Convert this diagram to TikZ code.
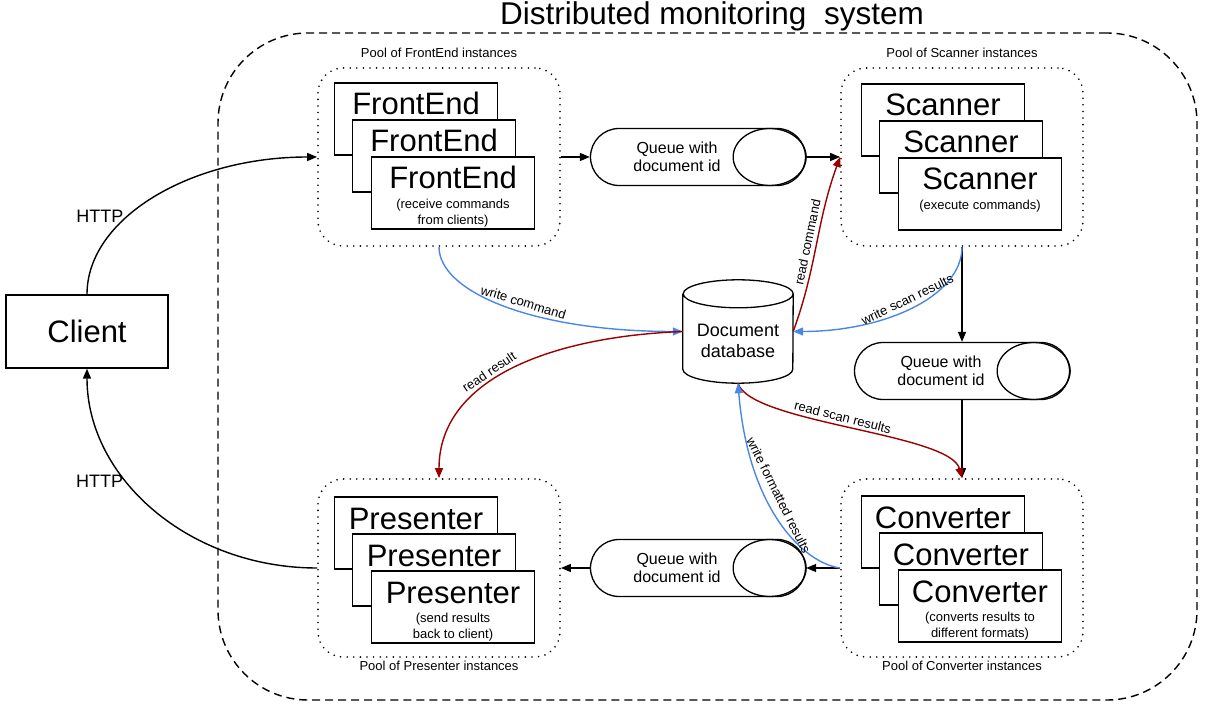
\documentclass[tikz,border=0pt]{standalone}
\usepackage{fontspec}
\setmainfont{Liberation Sans}
\usetikzlibrary{arrows.meta}

\definecolor{writeblue}{HTML}{4A86E8}
\definecolor{readred}{HTML}{990000}

\tikzset{
  pool/.style={draw, line width=1.8pt, line cap=round, dash pattern=on 0pt off 6.6pt,
    rounded corners=25pt, minimum width=242pt, minimum height=178pt},
  poollab/.style={font=\fontsize{13}{15}\selectfont, inner sep=0pt},
  inst/.style={draw, fill=white, line width=1.3pt, minimum width=163pt, inner sep=0pt,
    text height=32pt, text depth=40pt, font=\fontsize{31}{36}\selectfont},
  note/.style={font=\fontsize{13}{16.5}\selectfont, align=center, inner sep=0pt},
  queue/.style={draw, line width=1.3pt, rounded corners=28.5pt, minimum width=215pt,
    minimum height=57pt},
  qtext/.style={align=center, font=\fontsize{16}{18}\selectfont},
  flow/.style={line width=1.4pt, -{Triangle[length=10pt,width=8pt]}},
  writeflow/.style={flow, draw=writeblue},
  readflow/.style={flow, draw=readred},
  lab/.style={font=\fontsize{13}{15}\selectfont, sloped, above, inner sep=4pt},
  http/.style={font=\fontsize{18}{21}\selectfont, left},
}

\begin{document}
\begin{tikzpicture}[x=1pt, y=1pt]
\useasboundingbox (0,0) rectangle (1214,723);
% system boundary and title
\node[draw, line width=1.4pt, dash pattern=on 8pt off 5pt, rounded corners=90pt,
  minimum width=979pt, minimum height=667pt] (sys) at (707.5,356.5) {};
\node[font=\fontsize{31.5}{36}\selectfont, anchor=base] (title) at (712,698) {Distributed monitoring\ \ system};

% client
\node[draw, line width=1.3pt, minimum width=162pt, minimum height=73pt,
  font=\fontsize{31}{36}\selectfont] (client) at (87,391.5) {Client};

% pools of instances
\node[pool] (fepool) at (439,566) {};
\node[pool] (scpool) at (962,566) {};
\node[pool] (prpool) at (439,155) {};
\node[pool] (copool) at (962,155) {};
\node[poollab, anchor=base] (felab) at ([yshift=10pt]fepool.north) {Pool of FrontEnd instances};
\node[poollab, anchor=base] (sclab) at ([yshift=10pt]scpool.north) {Pool of Scanner instances};
\node[poollab, anchor=base] (prlab) at ([yshift=-13pt]prpool.south) {Pool of Presenter instances};
\node[poollab, anchor=base] (colab) at ([yshift=-13pt]copool.south) {Pool of Converter instances};

% three stacked instances per pool
\foreach \n/\px/\py/\t/\s in {fe/416/604/FrontEnd/{(receive commands\\from clients)},
    sc/943/603/Scanner/{(execute commands)},
    pr/416/190/Presenter/{(send results\\back to client)},
    co/943/191/Converter/{(converts results to\\different formats)}}{
  \node[inst] (\n1) at (\px,\py) {\t};
  \node[inst] (\n2) at (\px+18,\py-37) {\t};
  \node[inst] (\n3) at (\px+37,\py-74) {\t};
  \node[note, anchor=north] (\n note) at ([yshift=-42.5pt]\n3.north) {\s};
}

% queues
\foreach \q/\qx/\qy in {q1/698/566, q2/962/352, q3/698/155}{
  \node[queue] (\q) at (\qx,\qy) {};
  \draw[line width=1.3pt] ([xshift=-36.5pt]\q.east) ellipse (36.5 and 28.5);
  \node[qtext] (\q text) at ([xshift=-21pt]\q.center) {Queue with\\document id};
}

% database
\node[minimum width=110pt, minimum height=103pt] (db) at (738,391.5) {};
\draw[line width=1.3pt] ([yshift=-14pt]db.north west) -- ([yshift=14pt]db.south west)
  arc[start angle=180, end angle=360, x radius=55, y radius=14]
  -- ([yshift=-14pt]db.north east)
  arc[start angle=0, end angle=360, x radius=55, y radius=14];
\node[align=center, font=\fontsize{18}{21}\selectfont] (dbtext) at ([yshift=-9pt]db.center) {Document\\database};

% main flow
\draw[flow] (fepool.east) -- (q1.west);
\draw[flow] (q1.east) -- (scpool.west);
\draw[flow] (scpool.south) -- (q2.north);
\draw[flow] (q2.south) -- (copool.north);
\draw[flow] (copool.west) -- (q3.east);
\draw[flow] (q3.west) -- (prpool.east);

% HTTP
\draw[flow] (client.north) .. controls +(0,76) and +(-127,0) .. (fepool.west)
  node[http, pos=0.38] (http1) {HTTP};
\draw[flow] (prpool.west) .. controls +(-127.5,0) and +(0,-110) .. (client.south)
  node[http, pos=0.62] (http2) {HTTP};

% database access
\draw[writeflow] (fepool.south) .. controls +(0,-45) and +(-150,0) .. (db.west)
  node[lab, pos=0.56] (wcmd) {write command};
\draw[readflow] (db.west) .. controls +(-130,-5) and +(0,100) .. (prpool.north)
  node[lab, pos=0.57] (rres) {read result};
\draw[readflow] (db.east) to[out=70, in=250] node[lab, pos=0.5] (rcmd) {read command} (scpool.west);
\draw[writeflow] (scpool.south) .. controls +(0,-50) and +(90,0) .. (db.east)
  node[lab, pos=0.5] (wscan) {write scan results};
\draw[readflow] (db.south) .. controls +(12,-40) and +(-12,45) .. (copool.north)
  node[lab, pos=0.47] (rscan) {read scan results};
\draw[writeflow] (copool.west) .. controls +(-37,5) and +(10,-125) .. (db.south)
  node[lab, inner sep=7pt, pos=0.6] (wfmt) {write formatted results};
\end{tikzpicture}
\end{document}
